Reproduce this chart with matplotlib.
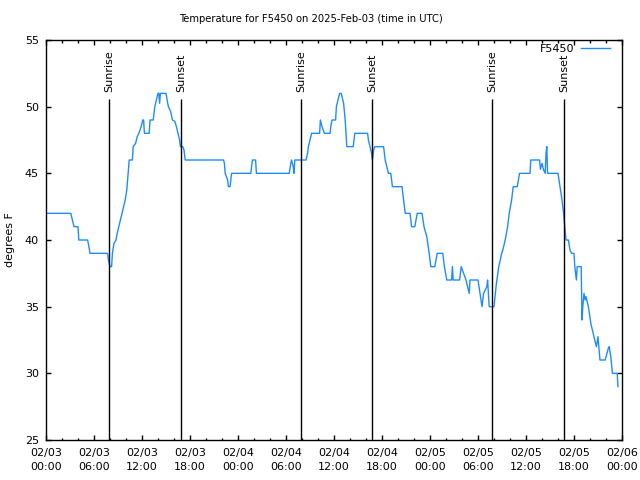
import pandas as pd
import matplotlib
matplotlib.use('Agg')
import matplotlib.pyplot as plt
import matplotlib.dates as mdates
from matplotlib.ticker import MultipleLocator

plt.rcParams['font.family'] = ['Liberation Sans Narrow', 'DejaVu Sans']
plt.rcParams['font.size'] = 8

# hours after 2025-02-03 00:00 UTC, temperature in F
hours = [0, 3.1, 3.3, 3.5, 4.0, 4.1, 5.2, 5.3, 5.5, 7.7, 7.8, 8.0, 8.2, 8.3, 8.5, 8.75,
         8.9, 9.1, 9.5, 9.7, 9.9, 10.1, 10.2, 10.4, 10.8, 10.9, 11.2, 11.4, 11.6, 11.9,
         12.1, 12.2, 12.3, 12.9, 13.0, 13.4, 13.6, 13.8, 14.0, 14.1, 14.2, 14.3, 15.0,
         15.2, 15.3, 15.6, 15.8, 16.1, 16.3, 16.5, 16.7, 16.8, 17.1, 17.25, 17.4, 22.2,
         22.3, 22.4, 22.7, 22.8, 23.0, 23.2, 25.6, 25.7, 25.8, 26.2, 26.3, 30.4, 30.6,
         30.7, 30.9, 31.0, 31.1, 32.5, 32.7, 32.8, 33.0, 33.2, 34.2, 34.3, 34.5, 34.8,
         35.5, 35.6, 35.75, 36.2, 36.3, 36.5, 36.7, 36.9, 37.2, 37.4, 37.6, 38.4, 38.6,
         40.2, 40.3, 40.5, 40.7, 40.8, 40.95, 41.1, 42.2, 42.4, 42.6, 42.8, 43.1, 43.3,
         44.5, 44.7, 44.9, 45.5, 45.7, 46.1, 46.4, 47.0, 47.25, 47.6, 47.9, 48.1, 48.6,
         48.9, 49.6, 49.8, 50.1, 50.7, 50.8, 50.9, 51.7, 51.9, 52.2, 52.5, 52.7, 52.9,
         53.0, 54.0, 54.25, 54.5, 54.7, 54.9, 55.1, 55.2, 55.3, 55.4, 56.0, 56.3, 56.6,
         56.96, 57.1, 57.4, 57.7, 57.9, 58.2, 58.4, 58.9, 59.2, 60.5, 60.6, 61.7, 61.8,
         62.0, 62.2, 62.4, 62.5, 62.6, 62.7, 64.0, 64.25, 64.5, 64.7, 64.8, 65.0, 65.3,
         65.5, 65.7, 66.0, 66.1, 66.3, 66.4, 66.5, 66.9, 67.0, 67.1, 67.25, 67.4, 67.5,
         67.8, 68.1, 68.4, 68.6, 68.8, 69.0, 69.1, 69.25, 69.9, 70.3, 70.4, 70.6, 70.8,
         71.4, 71.5]
temps = [42, 42, 41.5, 41, 41, 40, 40, 39.7, 39, 39, 38.5, 38, 38, 39, 39.75, 40,
         40.5, 41, 42, 42.5, 43, 43.75, 44.5, 46, 46, 47, 47.25, 47.75, 48, 48.5,
         49, 49, 48, 48, 49, 49, 50, 50.5, 51, 51, 50.25, 51, 51,
         50.3, 50, 49.6, 49, 48.9, 48.5, 48, 47.5, 47, 47, 46.75, 46, 46,
         45.75, 45, 44.5, 44, 44, 45, 45, 45.5, 46, 46, 45, 45, 45.75,
         46, 45.5, 45, 46, 46, 46.5, 47, 47.5, 48, 48, 49, 48.5, 48,
         48, 48.5, 49, 49, 50, 50.5, 51, 51, 50.25, 49, 47, 47, 48,
         48, 47.5, 47, 46.5, 46, 46.75, 47, 47, 46, 45.5, 45, 45, 44,
         44, 43, 42, 42, 41, 41, 42, 42, 41, 40.25, 39, 38, 38,
         39, 39, 38, 37, 37, 38, 37, 37, 38, 37.5, 37, 36.5, 36,
         37, 37, 36, 35, 36, 36.25, 36.5, 37, 36, 35, 35, 36.75, 38,
         39, 39.25, 40, 41, 42, 43, 44, 44, 45, 45, 46, 46, 45.3,
         45.75, 45.25, 45, 46.5, 47, 45, 45, 44, 43, 42, 41.3, 40, 40,
         39.25, 39, 39, 38, 37, 38, 38, 38, 34, 35, 36, 35.5, 35.75,
         35, 33.75, 33, 32.5, 32, 32.75, 32, 31, 31, 31.9, 32, 31.25, 30,
         30, 29]

sun_hours = [7.91, 16.91, 31.91, 40.79, 55.79, 64.79]
sun_labels = ['Sunrise', 'Sunset', 'Sunrise', 'Sunset', 'Sunrise', 'Sunset']

start = pd.Timestamp('2025-02-03 00:00')
times = start + pd.to_timedelta(hours, unit='h')
sun_times = start + pd.to_timedelta(sun_hours, unit='h')

fig = plt.figure(figsize=(6.4, 4.8), dpi=100)
ax = fig.add_axes([46 / 640, 40 / 480, 576 / 640, 400 / 480])

ax.plot(times, temps, color='#1e8cff', lw=1.0, label='F5450')

for t, lab in zip(sun_times, sun_labels):
    ax.vlines(t, 25, 50.57, color='black', lw=1.0)
    ax.text(t, 51.1, lab, rotation=90, ha='center', va='bottom')

ax.set_xlim(start, start + pd.Timedelta(hours=72))
ax.set_ylim(25, 55)
ax.xaxis.set_major_locator(mdates.HourLocator(byhour=[0, 6, 12, 18]))
ax.xaxis.set_minor_locator(mdates.HourLocator(interval=2))
ax.xaxis.set_major_formatter(mdates.DateFormatter('%m/%d\n%H:%M'))
ax.yaxis.set_major_locator(MultipleLocator(5))

ax.tick_params(which='both', direction='in', top=True, right=True, width=1.0)
ax.tick_params(which='major', length=3.6)
ax.tick_params(which='minor', length=1.8)
ax.tick_params(axis='x', pad=6)
ax.tick_params(axis='y', pad=5)
for lbl in ax.get_xticklabels():
    lbl.set_linespacing(1.5)
for s in ax.spines.values():
    s.set_linewidth(1.0)

ax.legend(loc='upper right', bbox_to_anchor=(0.979, 0.99), frameon=False,
          markerfirst=False, borderaxespad=0, borderpad=0,
          handlelength=2.6, handletextpad=0.6)

fig.text(311 / 640, 1 - 19 / 480, 'Temperature for F5450 on 2025-Feb-03 (time in UTC)',
         ha='center', va='center', fontsize=7.2)
fig.text(10 / 640, 0.5, 'degrees F', rotation=90, ha='center', va='center')

fig.savefig('out.png', dpi=100)
